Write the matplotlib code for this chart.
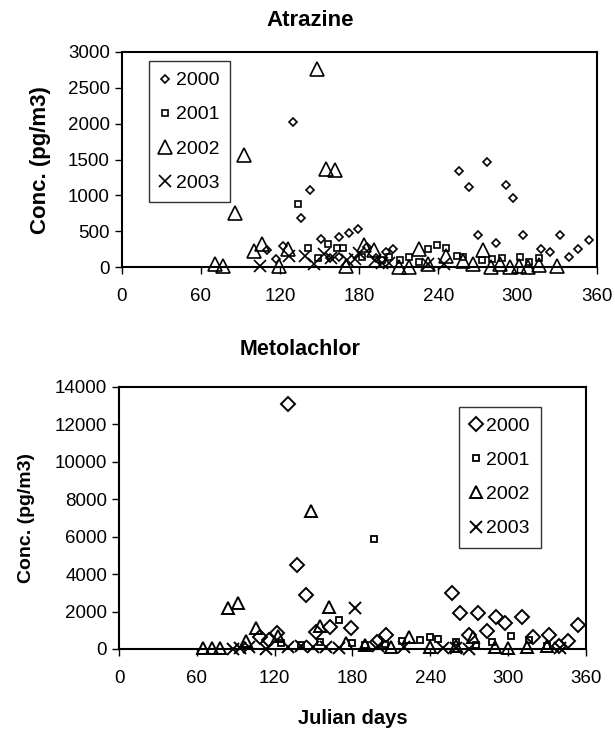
import numpy as np
import matplotlib
matplotlib.use('Agg')
import matplotlib.pyplot as plt

plt.rcParams['font.family'] = ['Liberation Sans', 'DejaVu Sans']

# Atrazine
atr_2000_day = [110, 117, 122, 130, 136, 143, 151, 158, 165, 165, 172, 179, 186, 193, 200, 206,
                256, 263, 270, 277, 284, 291, 297, 304, 318, 325, 332, 339, 346, 354]
atr_2000 = [237, 112, 293, 2030, 680, 1074, 395, 121, 423, 140, 474, 526, 283, 126, 205, 247,
            1335, 1120, 446, 1460, 344, 1145, 962, 446, 260, 209, 446, 135, 260, 372]
atr_2001_day = [134, 141, 149, 156, 163, 168, 182, 197, 203, 211, 218, 225, 232, 239, 246, 254,
                259, 273, 281, 288, 302, 309, 316]
atr_2001 = [879, 274, 121, 325, 274, 274, 144, 98, 140, 98, 140, 67, 247, 307, 274, 160,
            140, 98, 112, 121, 144, 70, 121]
atr_2002_day = [71, 77, 86, 93, 100, 106, 119, 126, 148, 155, 162, 170, 184, 191, 210, 218, 225,
                232, 246, 259, 266, 274, 280, 287, 294, 301, 308, 316, 330]
atr_2002 = [40, 15, 750, 1560, 227, 317, 15, 260, 2760, 1370, 1355, 15, 307, 246, 5, 5, 260,
            40, 150, 90, 40, 240, 5, 40, 5, 20, 5, 30, 10]
atr_2003_day = [105, 127, 139, 146, 153, 159, 171, 177, 180, 192, 197, 203, 232, 244]
atr_2003 = [15, 153, 153, 50, 190, 130, 100, 120, 200, 100, 60, 60, 50, 50]

# Metolachlor
met_2000_day = [109, 116, 122, 130, 137, 144, 152, 163, 179, 199, 206, 257, 263, 270, 277, 284,
                291, 298, 311, 319, 332, 339, 346, 354]
met_2000 = [657, 480, 871, 13100, 4490, 2890, 925, 1190, 1105, 400, 748, 3010, 1906, 748, 1900,
            962, 1693, 1407, 1693, 625, 732, 160, 444, 1283]
met_2001_day = [125, 140, 155, 170, 180, 190, 197, 205, 218, 232, 240, 246, 260, 275, 288, 302, 316, 330]
met_2001 = [300, 200, 400, 1550, 300, 200, 5880, 250, 420, 480, 625, 518, 390, 200, 390, 695, 481, 150]
met_2002_day = [65, 72, 78, 84, 92, 98, 106, 123, 148, 155, 162, 175, 190, 210, 224, 240, 260,
                273, 290, 300, 315, 330]
met_2002 = [50, 50, 50, 2175, 2475, 427, 1100, 700, 7390, 1245, 2260, 300, 200, 100, 657, 100,
            150, 625, 100, 50, 100, 150]
met_2003_day = [88, 93, 100, 113, 130, 140, 150, 160, 170, 182, 200, 220, 250, 260, 270, 340]
met_2003 = [0, 50, 100, 20, 100, 150, 80, 100, 50, 2210, 150, 100, 50, 50, 20, 50]

years = ['2000', '2001', '2002', '2003']
xticks = [0, 60, 120, 180, 240, 300, 360]

fig = plt.figure(figsize=(6.15, 7.32), dpi=100)
ax1 = fig.add_axes([0.198, 0.635, 0.772, 0.294])
ax2 = fig.add_axes([0.1935, 0.1134, 0.759, 0.358])

def style(ax, yticks):
    ax.set_xlim(0, 360)
    ax.set_ylim(0, yticks[-1])
    ax.set_xticks(xticks)
    ax.set_yticks(yticks)
    ax.tick_params(direction='out', length=5, width=1, labelsize=13.5, colors='black')
    ax.tick_params(axis='x', pad=10)
    for s in ax.spines.values():
        s.set_linewidth(1.5)
        s.set_color('black')

kw = dict(linestyle='none', markerfacecolor='none', markeredgecolor='black', clip_on=False)
legkw = dict(fontsize=14, frameon=True, fancybox=False, edgecolor='black', handlelength=0.6,
             handletextpad=0.25, labelspacing=0.85, borderpad=0.55, borderaxespad=0)

ax1.plot(atr_2000_day, atr_2000, marker='D', markersize=4.5, markeredgewidth=1.2, label=years[0], **kw)
ax1.plot(atr_2001_day, atr_2001, marker='s', markersize=5, markeredgewidth=1.2, label=years[1], **kw)
ax1.plot(atr_2002_day, atr_2002, marker='^', markersize=10, markeredgewidth=1.2, label=years[2], **kw)
ax1.plot(atr_2003_day, atr_2003, marker='x', markersize=9, markeredgewidth=1.2, color='black',
         linestyle='none', clip_on=False, label=years[3])
style(ax1, [0, 500, 1000, 1500, 2000, 2500, 3000])
ax1.set_ylabel('Conc. (pg/m3)', fontsize=16, fontweight='bold', labelpad=12)
leg1 = ax1.legend(loc='upper left', bbox_to_anchor=(0.057, 0.958), **legkw)
leg1.get_frame().set_linewidth(1)
fig.text(0.504, 0.972, 'Atrazine', ha='center', va='center', fontsize=16, fontweight='bold')

ax2.plot(met_2000_day, met_2000, marker='D', markersize=7, markeredgewidth=1.4, label=years[0], **kw)
ax2.plot(met_2001_day, met_2001, marker='s', markersize=4.5, markeredgewidth=1.3, label=years[1], **kw)
ax2.plot(met_2002_day, met_2002, marker='^', markersize=9, markeredgewidth=1.4, label=years[2], **kw)
ax2.plot(met_2003_day, met_2003, marker='x', markersize=9, markeredgewidth=1.4, color='black',
         linestyle='none', clip_on=False, label=years[3])
style(ax2, [0, 2000, 4000, 6000, 8000, 10000, 12000, 14000])
ax2.set_ylabel('Conc. (pg/m3)', fontsize=14, fontweight='bold', labelpad=14)
ax2.set_xlabel('Julian days', fontsize=14.5, fontweight='bold', labelpad=16)
leg2 = ax2.legend(loc='upper right', bbox_to_anchor=(0.903, 0.925), **legkw)
leg2.get_frame().set_linewidth(1)
fig.text(0.488, 0.522, 'Metolachlor', ha='center', va='center', fontsize=15.5, fontweight='bold')

fig.savefig('out.png', dpi=100)
